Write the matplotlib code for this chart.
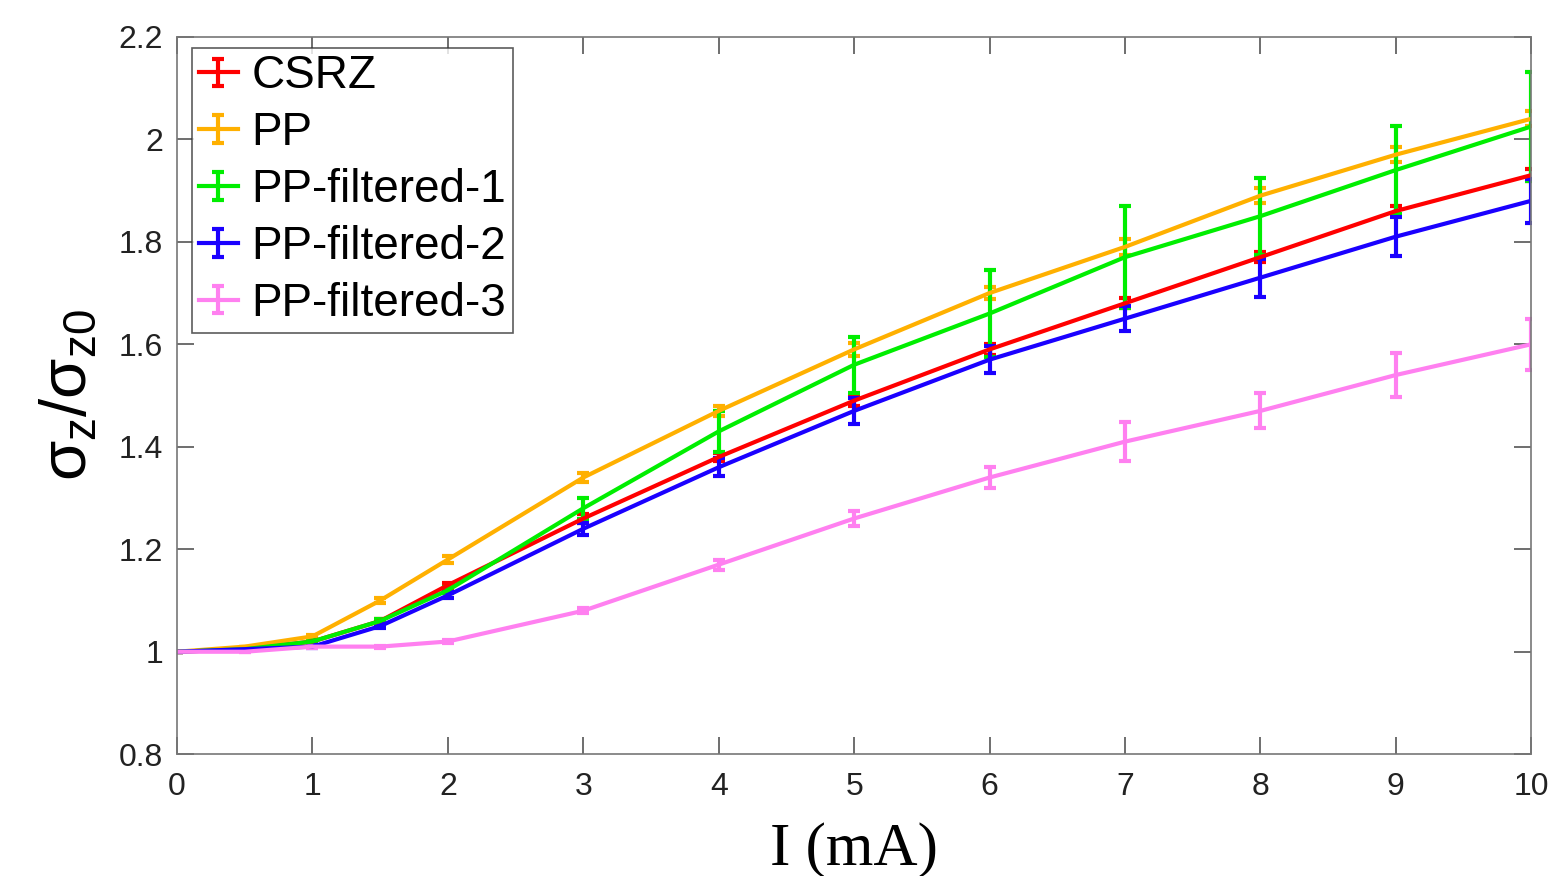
import matplotlib
matplotlib.use("Agg")
import matplotlib.pyplot as plt
from matplotlib.container import ErrorbarContainer
from matplotlib.legend_handler import HandlerErrorbar

# beam current (mA)
current = [0, 0.5, 1, 1.5, 2, 3, 4, 5, 6, 7, 8, 9, 10]

labels = ["CSRZ", "PP", "PP-filtered-1", "PP-filtered-2", "PP-filtered-3"]
colors = ["#ff0000", "#ffb000", "#00ee00", "#1a00ff", "#ff80f0"]

csrz = [1.0, 1.005, 1.02, 1.06, 1.13, 1.26, 1.38, 1.49, 1.59, 1.68, 1.77, 1.86, 1.93]
csrz_err = [0, 0, 0.003, 0.004, 0.005, 0.008, 0.008, 0.01, 0.01, 0.01, 0.01, 0.01, 0.012]

pp = [1.0, 1.01, 1.03, 1.10, 1.18, 1.34, 1.47, 1.59, 1.70, 1.79, 1.89, 1.97, 2.04]
pp_err = [0, 0, 0.003, 0.004, 0.006, 0.008, 0.01, 0.012, 0.012, 0.015, 0.015, 0.015, 0.015]

pp_f1 = [1.0, 1.005, 1.02, 1.06, 1.12, 1.28, 1.43, 1.56, 1.66, 1.77, 1.85, 1.94, 2.025]
pp_f1_err = [0, 0, 0.003, 0.004, 0.006, 0.02, 0.04, 0.055, 0.085, 0.10, 0.075, 0.086, 0.107]

pp_f2 = [1.0, 1.005, 1.01, 1.05, 1.11, 1.24, 1.36, 1.47, 1.57, 1.65, 1.73, 1.81, 1.88]
pp_f2_err = [0, 0, 0.003, 0.004, 0.006, 0.012, 0.018, 0.025, 0.027, 0.025, 0.037, 0.038, 0.043]

pp_f3 = [1.0, 1.0, 1.01, 1.01, 1.02, 1.08, 1.17, 1.26, 1.34, 1.41, 1.47, 1.54, 1.60]
pp_f3_err = [0, 0, 0.002, 0.002, 0.003, 0.005, 0.01, 0.015, 0.02, 0.038, 0.034, 0.043, 0.05]

series = [csrz, pp, pp_f1, pp_f2, pp_f3]
errors = [csrz_err, pp_err, pp_f1_err, pp_f2_err, pp_f3_err]

plt.rcParams["font.family"] = ["Liberation Sans", "DejaVu Sans"]
plt.rcParams["mathtext.fontset"] = "custom"
plt.rcParams["mathtext.rm"] = "Liberation Sans"
plt.rcParams["mathtext.it"] = "Liberation Sans"

fig = plt.figure(figsize=(15.53, 8.76), dpi=100)
ax = fig.add_axes([0.114, 0.139, 0.872, 0.819])

for y, e, c, lab in zip(series, errors, colors, labels):
    ax.errorbar(current, y, yerr=e, color=c, lw=3, elinewidth=3,
                capsize=4, capthick=3, label=lab)

ax.set_xlim(0, 10)
ax.set_ylim(0.8, 2.2)
ax.set_xticks(range(0, 11))
ax.set_yticks([0.8, 1.0, 1.2, 1.4, 1.6, 1.8, 2.0, 2.2])
ax.set_yticklabels(["0.8", "1", "1.2", "1.4", "1.6", "1.8", "2", "2.2"])
ax.tick_params(direction="in", top=True, right=True, length=12, width=1.2,
               labelsize=23, color="#555555", labelcolor="#222222", pad=10)
ax.tick_params(axis="x", pad=13)
for s in ax.spines.values():
    s.set_color("#777777")
    s.set_linewidth(1.2)

ax.set_xlabel("I (mA)", fontsize=44, family="Liberation Serif", labelpad=14)
ax.set_ylabel(r"$\sigma_\mathrm{z}/\sigma_\mathrm{z0}$", fontsize=47, labelpad=14)

leg = ax.legend(loc="upper left", bbox_to_anchor=(0.011, 0.985), fontsize=33,
                frameon=True, fancybox=False, edgecolor="#333333",
                handlelength=0.85, handletextpad=0.3, borderpad=0.15,
                labelspacing=0.28, borderaxespad=0,
                handler_map={ErrorbarContainer: HandlerErrorbar(yerr_size=0.3)})
leg.get_frame().set_linewidth(1.2)

fig.savefig("out.png", dpi=100)
